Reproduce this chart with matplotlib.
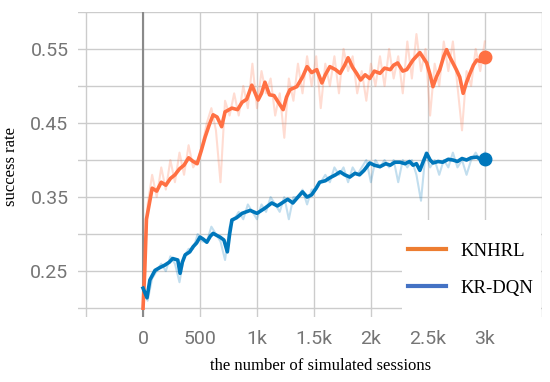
import numpy as np
import matplotlib.pyplot as plt
from matplotlib.lines import Line2D
from matplotlib.patches import Rectangle

# smoothed curves
knhrl_x = [0, 15, 30, 60, 80, 120, 160, 200, 240, 280, 320, 360, 400, 440, 475, 510, 545,
           580, 615, 650, 690, 720, 780, 830, 870, 910, 955, 985, 1010, 1040, 1070, 1110,
           1150, 1200, 1230, 1260, 1290, 1350, 1400, 1440, 1480, 1525, 1570, 1600, 1640,
           1690, 1730, 1770, 1800, 1840, 1875, 1910, 1950, 1990, 2030, 2080, 2120, 2170,
           2200, 2235, 2280, 2315, 2370, 2430, 2460, 2490, 2520, 2545, 2575, 2605, 2640,
           2665, 2690, 2720, 2750, 2780, 2810, 2840, 2870, 2900, 2930, 2960, 3000]
knhrl_y = [0.200, 0.250, 0.320, 0.345, 0.362, 0.358, 0.370, 0.366, 0.375, 0.380, 0.388,
           0.393, 0.403, 0.398, 0.395, 0.412, 0.431, 0.447, 0.461, 0.458, 0.445, 0.465,
           0.470, 0.468, 0.478, 0.482, 0.501, 0.490, 0.481, 0.490, 0.505, 0.488, 0.487,
           0.475, 0.468, 0.485, 0.495, 0.499, 0.512, 0.526, 0.518, 0.522, 0.504, 0.515,
           0.526, 0.522, 0.517, 0.528, 0.538, 0.525, 0.517, 0.508, 0.515, 0.510, 0.520,
           0.517, 0.524, 0.522, 0.528, 0.531, 0.520, 0.522, 0.535, 0.545, 0.538, 0.531,
           0.515, 0.499, 0.512, 0.522, 0.540, 0.549, 0.540, 0.531, 0.522, 0.512, 0.490,
           0.505, 0.517, 0.528, 0.535, 0.533, 0.539]

krdqn_x = [0, 35, 60, 105, 150, 190, 230, 260, 305, 325, 345, 370, 410, 440, 470, 500, 530,
           560, 590, 615, 650, 675, 710, 740, 760, 780, 820, 870, 940, 1000, 1070, 1130,
           1180, 1230, 1270, 1315, 1360, 1400, 1440, 1480, 1520, 1550, 1600, 1640, 1690,
           1730, 1770, 1815, 1860, 1900, 1940, 1990, 2030, 2080, 2130, 2170, 2210, 2255,
           2300, 2340, 2370, 2400, 2430, 2460, 2490, 2520, 2545, 2590, 2630, 2680, 2720,
           2760, 2800, 2840, 2880, 2930, 2970, 3000]
krdqn_y = [0.227, 0.214, 0.238, 0.251, 0.255, 0.258, 0.262, 0.267, 0.265, 0.247, 0.262,
           0.272, 0.276, 0.283, 0.288, 0.296, 0.293, 0.289, 0.297, 0.301, 0.298, 0.296,
           0.292, 0.276, 0.300, 0.319, 0.322, 0.328, 0.332, 0.328, 0.335, 0.342, 0.338,
           0.343, 0.347, 0.342, 0.350, 0.357, 0.350, 0.353, 0.362, 0.370, 0.372, 0.376,
           0.380, 0.384, 0.380, 0.377, 0.382, 0.380, 0.386, 0.396, 0.393, 0.391, 0.395,
           0.393, 0.397, 0.397, 0.395, 0.398, 0.393, 0.395, 0.386, 0.398, 0.409, 0.400,
           0.396, 0.398, 0.397, 0.401, 0.400, 0.398, 0.402, 0.400, 0.403, 0.404, 0.400,
           0.401]

# raw (unsmoothed) values, one every 40 sessions
knhrl_raw = [0.20, 0.34, 0.38, 0.35, 0.39, 0.36, 0.40, 0.37, 0.41, 0.38, 0.42, 0.39, 0.40,
             0.42, 0.45, 0.47, 0.44, 0.37, 0.48, 0.46, 0.49, 0.46, 0.50, 0.47, 0.53, 0.47,
             0.52, 0.49, 0.51, 0.46, 0.49, 0.43, 0.51, 0.48, 0.53, 0.49, 0.54, 0.50, 0.54,
             0.47, 0.53, 0.50, 0.54, 0.49, 0.55, 0.52, 0.54, 0.49, 0.52, 0.48, 0.53, 0.50,
             0.54, 0.50, 0.55, 0.51, 0.54, 0.49, 0.56, 0.51, 0.57, 0.52, 0.55, 0.46, 0.53,
             0.50, 0.56, 0.52, 0.56, 0.50, 0.44, 0.52, 0.50, 0.55, 0.52, 0.56]
krdqn_raw = [0.23, 0.21, 0.24, 0.25, 0.26, 0.25, 0.27, 0.26, 0.235, 0.27, 0.28, 0.28, 0.30,
             0.29, 0.29, 0.31, 0.30, 0.29, 0.265, 0.31, 0.32, 0.33, 0.32, 0.34, 0.33, 0.32,
             0.34, 0.33, 0.35, 0.34, 0.33, 0.35, 0.32, 0.35, 0.35, 0.36, 0.34, 0.36, 0.36,
             0.37, 0.38, 0.37, 0.39, 0.38, 0.39, 0.37, 0.39, 0.38, 0.39, 0.40, 0.37, 0.40,
             0.39, 0.40, 0.39, 0.40, 0.37, 0.40, 0.39, 0.40, 0.38, 0.345, 0.41, 0.39, 0.40,
             0.38, 0.40, 0.39, 0.41, 0.39, 0.40, 0.38, 0.40, 0.41, 0.40, 0.41]
raw_x = np.linspace(0, 3000, len(knhrl_raw))

xticks = [0, 500, 1000, 1500, 2000, 2500, 3000]
xtick_labels = ["0", "500", "1k", "1.5k", "2k", "2.5k", "3k"]
yticks = [0.25, 0.35, 0.45, 0.55]

orange = "#ff7043"
blue = "#0077bb"

fig = plt.figure(figsize=(5.5, 3.82), dpi=100)
ax = fig.add_axes([0.142, 0.170, 0.843, 0.799])

ax.set_xlim(-570, 3500)
ax.set_ylim(0.188, 0.60)

# grid lines
for gx in np.arange(-500, 3501, 500):
    ax.axvline(gx, color="#cccccc", lw=1.0, zorder=0)
for gy in np.arange(0.20, 0.601, 0.05):
    ax.axhline(gy, color="#cccccc", lw=1.0, zorder=0)
ax.axvline(0, color="#8a8a8a", lw=1.5, zorder=1)

ax.plot(raw_x, knhrl_raw, color=orange, alpha=0.24, lw=1.5, zorder=2)
ax.plot(raw_x, krdqn_raw, color=blue, alpha=0.24, lw=1.5, zorder=2)
ax.plot(knhrl_x, knhrl_y, color=orange, lw=2.6, zorder=3)
ax.plot(krdqn_x, krdqn_y, color=blue, lw=2.6, zorder=3)
ax.plot(knhrl_x[-1], knhrl_y[-1], "o", color=orange, ms=9, zorder=4)
ax.plot(krdqn_x[-1], krdqn_y[-1], "o", color=blue, ms=9, zorder=4)

for s in ax.spines.values():
    s.set_visible(False)

ax.set_xticks(xticks)
ax.set_xticklabels(xtick_labels, family="Roboto", fontsize=14, color="#757575")
ax.set_yticks(yticks)
ax.set_yticklabels([f"{v:.2f}" for v in yticks], family="Roboto", fontsize=14, color="#757575")
ax.tick_params(length=0, pad=7)
ax.tick_params(axis="x", pad=9)

fig.text(0.582, 0.042, "the number of simulated sessions", family="Liberation Serif",
         fontsize=12, ha="center", va="center")
fig.text(0.02, 0.563, "success rate", family="Liberation Serif", fontsize=12,
         rotation=90, ha="center", va="center")

# white legend panel
ax.add_patch(Rectangle((0.698, 0.0), 0.3, 0.318, transform=ax.transAxes,
                       facecolor="white", edgecolor="none", zorder=5))
handles = [Line2D([], [], color="#ed7d31", lw=3),
           Line2D([], [], color="#4472c4", lw=3)]
leg = ax.legend(handles, ["KNHRL", "KR-DQN"], loc="upper left",
                bbox_to_anchor=(0.711, 0.243), frameon=False, borderpad=0,
                borderaxespad=0, handlelength=2.05, handletextpad=0.75,
                labelspacing=1.05, prop={"family": "Liberation Serif", "size": 13.5})
leg.set_zorder(6)

fig.savefig("out.png", dpi=100)
